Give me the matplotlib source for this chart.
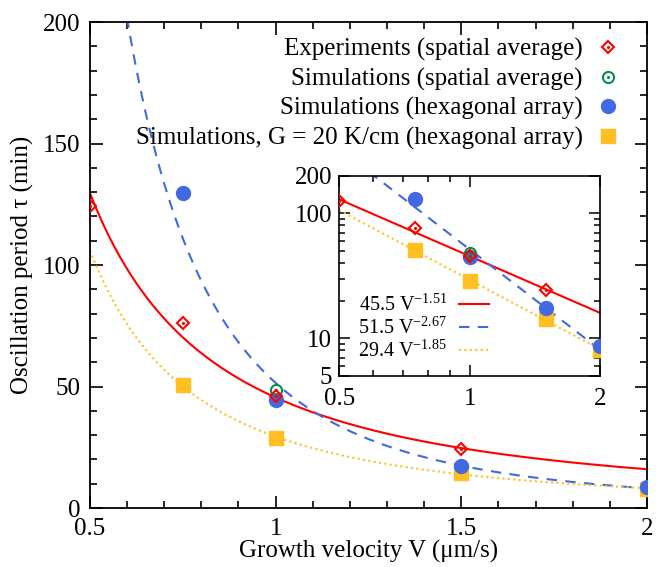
import matplotlib
matplotlib.use("Agg")
import matplotlib.pyplot as plt
import numpy as np
from matplotlib.ticker import FixedLocator, MultipleLocator, NullFormatter, FuncFormatter, LogLocator

plt.rcParams['font.family'] = ['Liberation Serif', 'DejaVu Serif']
plt.rcParams['mathtext.fontset'] = 'custom'
plt.rcParams['mathtext.rm'] = 'Liberation Serif'

# data
v_exp = [0.5, 0.75, 1.0, 1.5]
tau_exp = [124.5, 76.0, 46.0, 24.2]
v_sim_avg = [1.0]
tau_sim_avg = [48.5]
v_hex = [0.75, 1.0, 1.5, 2.0]
tau_hex = [129.5, 44.5, 17.5, 8.7]
v_g20 = [0.75, 1.0, 1.5, 2.0]
tau_g20 = [50.7, 29.0, 14.3, 8.0]

# power-law fits  tau = a * V^b  (as given in the inset legend)
fits = [(45.5, -1.51, 'red', '-'),
        (51.5, -2.67, '#4169e1', (0, (5, 4))),
        (29.4, -1.85, '#ffbf20', (0, (1, 1.6)))]

RED = '#ff0000'
GREEN = '#00904a'
BLUE = '#4169e1'
ORANGE = '#ffbf20'

fig = plt.figure(figsize=(6.69, 5.67), dpi=100)
ax = fig.add_axes([0.1345, 0.104, 0.8325, 0.857])
ins = fig.add_axes([0.507, 0.337, 0.390, 0.353])

vv = np.linspace(0.5, 2.0, 300)


def draw(a):
    for c, e, col, ls in fits:
        a.plot(vv, c * vv ** e, color=col, ls=ls, lw=1.5,
               label='%.1f V$^{%.2f}$' % (c, e))
    h1 = a.plot(v_exp, tau_exp, 'D', mfc='none', mec=RED, mew=1.5, ms=6.5, zorder=5)[0]
    h1b = a.plot(v_exp, tau_exp, '.', color=RED, ms=2.5, zorder=5)[0]
    h3 = a.plot(v_hex, tau_hex, 'o', color=BLUE, ms=10, zorder=4)[0]
    h4 = a.plot(v_g20, tau_g20, 's', color=ORANGE, ms=9.5, zorder=3)[0]
    h2 = a.plot(v_sim_avg, tau_sim_avg, 'o', mfc='none', mec=GREEN, mew=1.5, ms=8, zorder=4.5)[0]
    h2b = a.plot(v_sim_avg, tau_sim_avg, '.', color=GREEN, ms=2.5, zorder=4.5)[0]
    return (h1, h1b), (h2, h2b), h3, h4


handles = draw(ax)
ax.set_xlim(0.5, 2.0)
ax.set_ylim(0, 200)
ax.xaxis.set_major_locator(FixedLocator([0.5, 1.0, 1.5, 2.0]))
ax.xaxis.set_minor_locator(MultipleLocator(0.1))
ax.yaxis.set_major_locator(MultipleLocator(50))
ax.yaxis.set_minor_locator(MultipleLocator(10))
ax.xaxis.set_major_formatter(FuncFormatter(lambda x, p: '%g' % x))
ax.tick_params(which='both', direction='in', top=True, right=True, labelsize=18, width=1.2)
ax.tick_params(which='major', length=9, pad=7)
ax.tick_params(which='minor', length=5)
for s in ax.spines.values():
    s.set_linewidth(1.3)
ax.set_xlabel('Growth velocity V (μm/s)', fontsize=18, labelpad=0)
ax.set_ylabel('Oscillation period τ (min)', fontsize=18, labelpad=6)

labels = ['Experiments (spatial average)', 'Simulations (spatial average)',
          'Simulations (hexagonal array)', 'Simulations, G = 20 K/cm (hexagonal array)']
ax.legend(handles, labels, loc='center right', bbox_to_anchor=(0.952, 0.852),
          markerfirst=False, frameon=False, fontsize=18, handlelength=1.0,
          handletextpad=0.5, labelspacing=0.26, borderaxespad=0, borderpad=0)

# inset, log-log
draw(ins)
ins.set_xscale('log')
ins.set_yscale('log')
ins.set_xlim(0.5, 2.0)
ins.set_ylim(5, 200)
ins.xaxis.set_major_locator(FixedLocator([0.5, 1, 2]))
ins.xaxis.set_minor_locator(LogLocator(subs=np.arange(2, 10)))
ins.yaxis.set_major_locator(FixedLocator([5, 10, 100, 200]))
ins.yaxis.set_minor_locator(LogLocator(subs=np.arange(2, 10)))
fmt = FuncFormatter(lambda x, p: '%g' % x)
ins.xaxis.set_major_formatter(fmt)
ins.yaxis.set_major_formatter(fmt)
ins.xaxis.set_minor_formatter(NullFormatter())
ins.yaxis.set_minor_formatter(NullFormatter())
ins.tick_params(which='both', direction='in', top=True, right=True, labelsize=18, width=1.1)
ins.tick_params(which='major', length=8)
ins.tick_params(axis='x', which='major', pad=9)
ins.tick_params(axis='y', which='major', pad=5)
ins.tick_params(which='minor', length=4)
for s in ins.spines.values():
    s.set_linewidth(1.2)
ins.legend(loc='center left', bbox_to_anchor=(0.073, 0.24), markerfirst=False, frameon=False,
           fontsize=14.5, handlelength=1.45, handletextpad=0.6, labelspacing=0.05,
           borderaxespad=0, borderpad=0)

fig.savefig('out.png', dpi=100)
